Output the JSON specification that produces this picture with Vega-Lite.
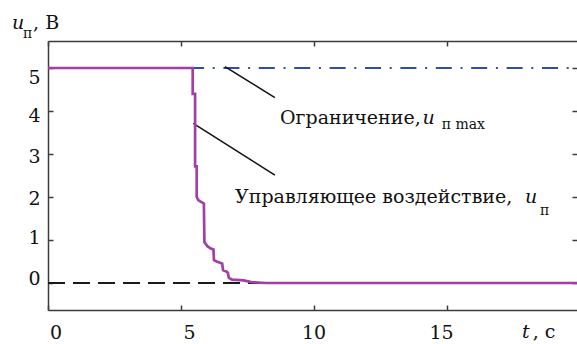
{
  "$schema": "https://vega.github.io/schema/vega-lite/v6.json",
  "width": 529,
  "height": 269,
  "autosize": "none",
  "padding": {"left": 48, "top": 41, "right": 0, "bottom": 34},
  "background": "white",
  "config": {"view": {"stroke": null}, "font": "DejaVu Serif"},
  "datasets": {
    "zero": [{"t": 0, "t2": 19.887, "u": 0}],
    "limit": [{"t": 5.44, "t2": 19.887, "u": 5}],
    "leaders": [
      {"t": 6.65, "u": 5.03, "t2": 8.53, "u2": 4.31},
      {"t": 5.46, "u": 3.71, "t2": 8.53, "u2": 2.51}
    ],
    "control": [
      {"i": 1, "t": 0, "u": 5.0},
      {"i": 2, "t": 5.44, "u": 5.0},
      {"i": 3, "t": 5.44, "u": 4.40},
      {"i": 4, "t": 5.53, "u": 4.40},
      {"i": 5, "t": 5.53, "u": 2.71},
      {"i": 6, "t": 5.59, "u": 2.71},
      {"i": 7, "t": 5.59, "u": 2.0},
      {"i": 8, "t": 5.65, "u": 1.93},
      {"i": 9, "t": 5.72, "u": 1.90},
      {"i": 10, "t": 5.86, "u": 1.85},
      {"i": 11, "t": 5.88, "u": 0.95},
      {"i": 12, "t": 6.0, "u": 0.85},
      {"i": 13, "t": 6.12, "u": 0.80},
      {"i": 14, "t": 6.22, "u": 0.78},
      {"i": 15, "t": 6.24, "u": 0.53},
      {"i": 16, "t": 6.34, "u": 0.50},
      {"i": 17, "t": 6.47, "u": 0.47},
      {"i": 18, "t": 6.55, "u": 0.45},
      {"i": 19, "t": 6.58, "u": 0.30},
      {"i": 20, "t": 6.70, "u": 0.27},
      {"i": 21, "t": 6.76, "u": 0.24},
      {"i": 22, "t": 6.80, "u": 0.12},
      {"i": 23, "t": 6.92, "u": 0.08},
      {"i": 24, "t": 7.35, "u": 0.06},
      {"i": 25, "t": 7.65, "u": 0.02},
      {"i": 26, "t": 8.2, "u": 0.0},
      {"i": 27, "t": 19.887, "u": 0.0}
    ],
    "normalText": [
      {"t": 8.72, "u": 3.70, "txt": "Ограничение,"},
      {"t": 7.03, "u": 1.86, "txt": "Управляющее воздействие,"},
      {"t": -0.56, "u": 5.91, "txt": ", В"},
      {"t": 18.22, "u": -1.28, "txt": ", с"}
    ],
    "italicText": [
      {"t": 14.08, "u": 3.70, "txt": "u"},
      {"t": 17.93, "u": 1.86, "txt": "u"},
      {"t": -1.35, "u": 5.91, "txt": "u"},
      {"t": 17.82, "u": -1.28, "txt": "t"}
    ],
    "subText": [
      {"t": 14.80, "u": 3.58, "txt": "п max"},
      {"t": 18.5, "u": 1.58, "txt": "п"},
      {"t": -0.94, "u": 5.70, "txt": "п"}
    ]
  },
  "resolve": {"axis": {"x": "independent", "y": "independent"}},
  "layer": [
    {
      "data": {"name": "zero"},
      "mark": {"type": "rule", "color": "#1a1a1a", "strokeWidth": 2, "strokeDash": [17, 8], "strokeCap": "butt"},
      "encoding": {
        "x": {"field": "t", "type": "quantitative", "scale": {"domain": [0, 19.887], "nice": false, "zero": false},
          "axis": {"orient": "bottom", "values": [0, 5, 10, 15], "title": null, "grid": false,
            "domain": true, "domainColor": "#3c3c3c", "domainWidth": 1.5,
            "ticks": true, "tickSize": -5, "tickColor": "#3c3c3c", "tickWidth": 1.5,
            "labelFont": "DejaVu Serif", "labelFontSize": 19, "labelColor": "#111111",
            "labelBaseline": "alphabetic", "labelPadding": 33, "labelFlush": false, "labelOverlap": false, "labelBound": false,
            "labelOffset": {"condition": [
              {"test": "datum.value == 0", "value": 7.5},
              {"test": "datum.value == 5", "value": 8},
              {"test": "datum.value == 10", "value": -0.5}
            ], "value": -6}
          }},
        "x2": {"field": "t2"},
        "y": {"field": "u", "type": "quantitative", "scale": {"domain": [-0.628, 5.628], "nice": false, "zero": false},
          "axis": {"orient": "left", "values": [0, 1, 2, 3, 4, 5], "title": null, "grid": false,
            "domain": true, "domainColor": "#3c3c3c", "domainWidth": 1.5,
            "ticks": true, "tickSize": -5, "tickColor": "#3c3c3c", "tickWidth": 1.5,
            "labelFont": "DejaVu Serif", "labelFontSize": 19, "labelColor": "#111111",
            "labelBaseline": "alphabetic", "labelPadding": 13, "labelOverlap": false, "labelBound": false, "labelFlush": false,
            "labelOffset": {"condition": [
              {"test": "datum.value == 5", "value": 15.3},
              {"test": "datum.value == 4", "value": 10.7},
              {"test": "datum.value == 3", "value": 8.7},
              {"test": "datum.value == 2", "value": 8},
              {"test": "datum.value == 1", "value": 3.3}
            ], "value": 1.5}
          }}
      }
    },
    {
      "data": {"name": "limit"},
      "mark": {"type": "rule", "color": "#2e4fa3", "strokeWidth": 2, "strokeDash": [16, 8.7, 2, 8.7], "strokeDashOffset": 4.7, "strokeCap": "butt"},
      "encoding": {
        "x": {"field": "t", "type": "quantitative", "scale": {"domain": [0, 19.887], "nice": false, "zero": false},
          "axis": {"orient": "top", "values": [0, 5, 10, 15], "title": null, "grid": false, "labels": false,
            "domain": true, "domainColor": "#3c3c3c", "domainWidth": 1.5,
            "ticks": true, "tickSize": -5, "tickColor": "#3c3c3c", "tickWidth": 1.5}},
        "x2": {"field": "t2"},
        "y": {"field": "u", "type": "quantitative", "scale": {"domain": [-0.628, 5.628], "nice": false, "zero": false},
          "axis": {"orient": "right", "values": [0, 1, 2, 3, 4, 5], "title": null, "grid": false, "labels": false,
            "domain": false,
            "ticks": true, "tickSize": -5, "tickColor": "#3c3c3c", "tickWidth": 1.5}}
      }
    },
    {
      "data": {"name": "leaders"},
      "mark": {"type": "rule", "color": "#111111", "strokeWidth": 1.5},
      "encoding": {
        "x": {"field": "t", "type": "quantitative", "axis": null},
        "x2": {"field": "t2"},
        "y": {"field": "u", "type": "quantitative", "axis": null},
        "y2": {"field": "u2"}
      }
    },
    {
      "data": {"name": "control"},
      "mark": {"type": "line", "color": "#a33ea3", "strokeWidth": 2.7, "strokeJoin": "miter", "strokeCap": "butt"},
      "encoding": {
        "x": {"field": "t", "type": "quantitative", "axis": null},
        "y": {"field": "u", "type": "quantitative", "axis": null},
        "order": {"field": "i", "type": "quantitative"}
      }
    },
    {
      "data": {"name": "normalText"},
      "mark": {"type": "text", "align": "left", "baseline": "alphabetic", "font": "DejaVu Serif", "fontSize": 19, "color": "#111111"},
      "encoding": {
        "x": {"field": "t", "type": "quantitative", "axis": null},
        "y": {"field": "u", "type": "quantitative", "axis": null},
        "text": {"field": "txt"}
      }
    },
    {
      "data": {"name": "italicText"},
      "mark": {"type": "text", "align": "left", "baseline": "alphabetic", "font": "DejaVu Serif", "fontStyle": "italic", "fontSize": 19, "color": "#111111"},
      "encoding": {
        "x": {"field": "t", "type": "quantitative", "axis": null},
        "y": {"field": "u", "type": "quantitative", "axis": null},
        "text": {"field": "txt"}
      }
    },
    {
      "data": {"name": "subText"},
      "mark": {"type": "text", "align": "left", "baseline": "alphabetic", "font": "DejaVu Serif", "fontSize": 14, "color": "#111111"},
      "encoding": {
        "x": {"field": "t", "type": "quantitative", "axis": null},
        "y": {"field": "u", "type": "quantitative", "axis": null},
        "text": {"field": "txt"}
      }
    }
  ]
}
